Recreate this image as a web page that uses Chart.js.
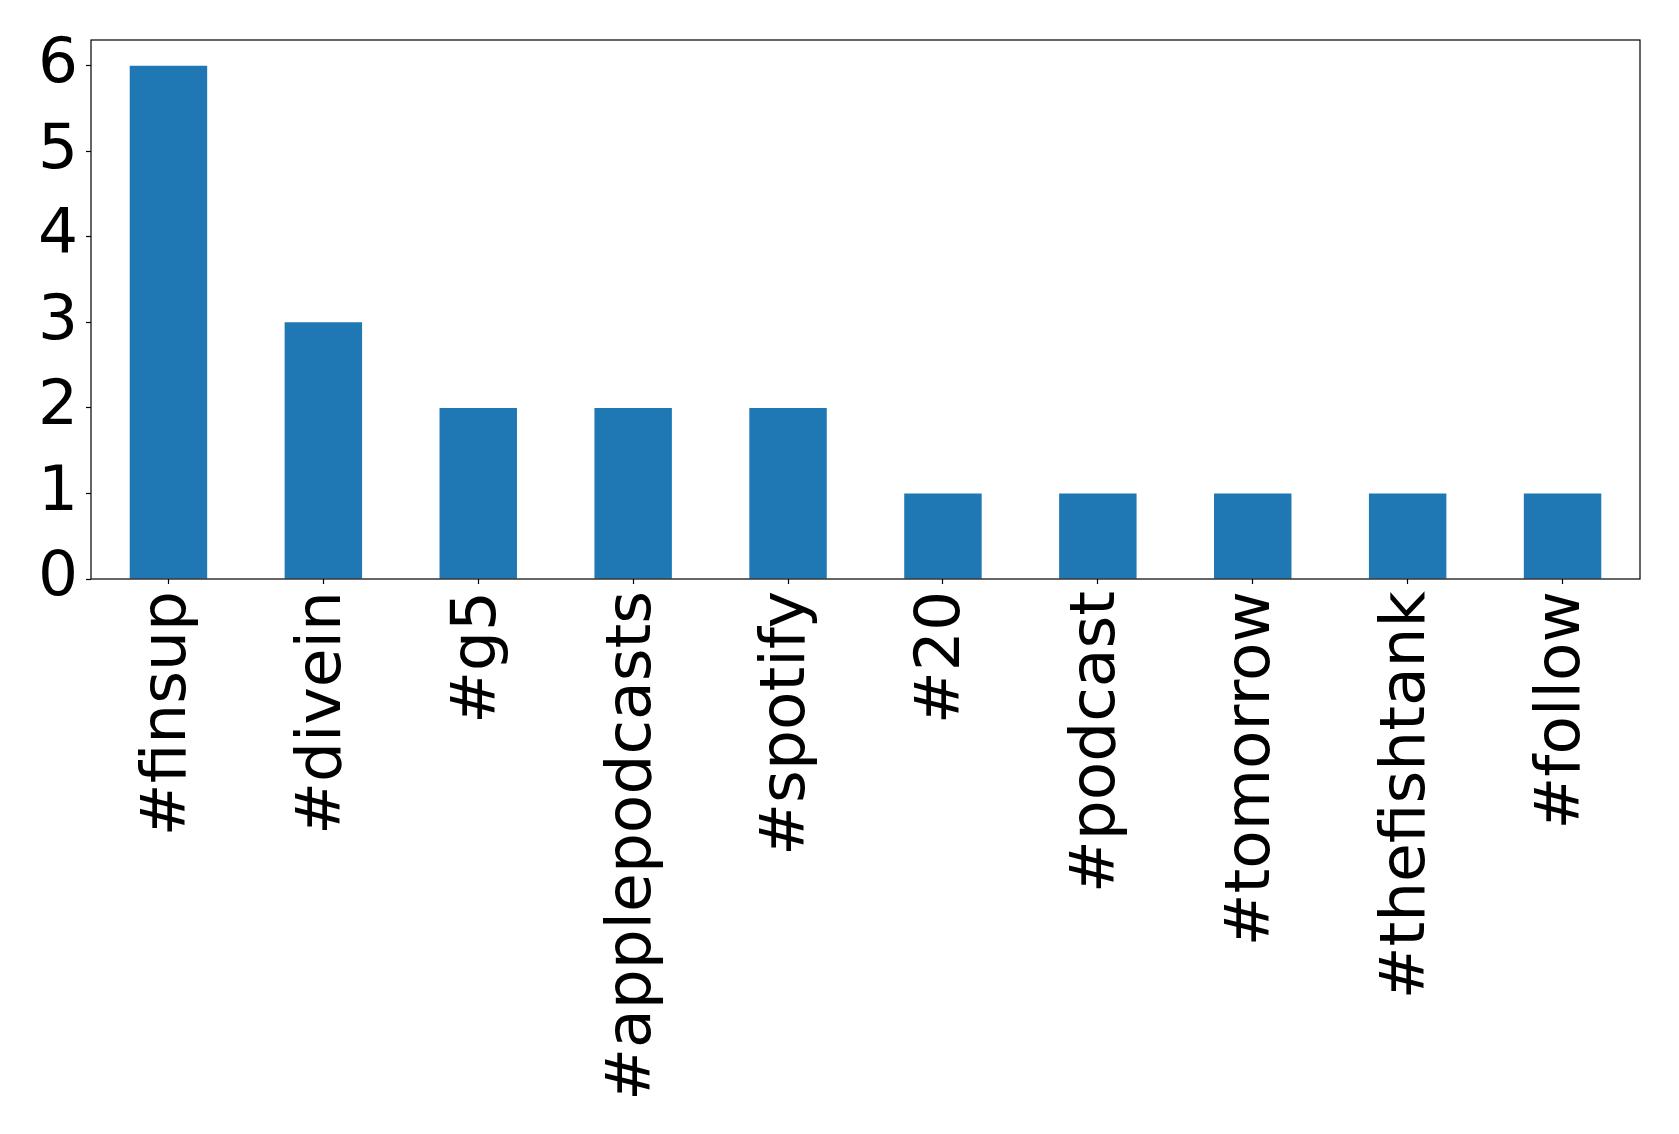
<!DOCTYPE html>
<html>
<head>
<meta charset="utf-8">
<script src="https://cdn.jsdelivr.net/npm/chart.js@4.4.1/dist/chart.umd.min.js"></script>
<style>
  html, body { margin: 0; padding: 0; background: #fff; }
  #wrap { width: 1679px; height: 1134px; }
</style>
</head>
<body>
<div id="wrap"><canvas id="chart" width="1679" height="1134"></canvas></div>
<script>
// hashtag counts
const hashtags = ['#finsup', '#divein', '#g5', '#applepodcasts', '#spotify',
                  '#20', '#podcast', '#tomorrow', '#thefishtank', '#follow'];
const counts = [6, 3, 2, 2, 2, 1, 1, 1, 1, 1];
const yTicks = [0, 1, 2, 3, 4, 5, 6];

const FONT = 'DejaVu Sans';

// matplotlib style box around the axes
const frame = {
    id: 'frame',
    afterDraw: function (chart) {
        const a = chart.chartArea;
        const ctx = chart.ctx;
        ctx.save();
        ctx.strokeStyle = '#000';
        ctx.lineWidth = 1.2;
        ctx.strokeRect(a.left, a.top, a.right - a.left, a.bottom - a.top);
        ctx.restore();
    }
};

new Chart(document.getElementById('chart').getContext('2d'), {
    type: 'bar',
    data: {
        labels: hashtags,
        datasets: [{
            data: counts,
            backgroundColor: '#1f77b4',
            borderWidth: 0,
            barPercentage: 0.5,
            categoryPercentage: 1.0
        }]
    },
    options: {
        responsive: false,
        animation: false,
        layout: { padding: { top: 40, right: 39, left: 0, bottom: 0 } },
        plugins: { legend: { display: false }, tooltip: { enabled: false } },
        scales: {
            x: {
                offset: true,
                grid: { display: true, offset: false, drawOnChartArea: false, tickLength: 5, tickColor: '#000', tickWidth: 1.2 },
                border: { display: false },
                ticks: {
                    color: '#000',
                    font: { family: FONT, size: 63 },
                    minRotation: 90,
                    maxRotation: 90,
                    padding: 7,
                    autoSkip: false
                },
                afterFit: function (s) {
                    s.height = 555;
                    s.paddingLeft = 0;
                    s.paddingRight = 0;
                }
            },
            y: {
                min: 0,
                max: 6.3,
                grid: { display: true, drawOnChartArea: false, tickLength: 5, tickColor: '#000', tickWidth: 1.2 },
                border: { display: false },
                ticks: {
                    color: '#000',
                    font: { family: FONT, size: 63 },
                    padding: 8,
                    stepSize: 1
                },
                afterBuildTicks: function (s) {
                    s.ticks = yTicks.map(v => ({ value: v }));
                },
                afterFit: function (s) {
                    s.width = 91;
                    s.paddingTop = 0;
                    s.paddingBottom = 0;
                }
            }
        }
    },
    plugins: [frame]
});
</script>
</body>
</html>
